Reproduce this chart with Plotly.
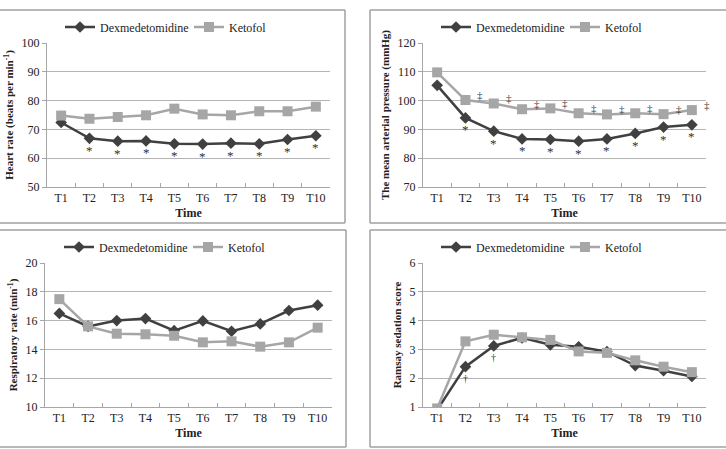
import plotly.graph_objects as go

W, H = 726, 449
FONT = "Liberation Serif"
DEX_COLOR = "#404040"
KET_COLOR = "#a6a6a6"

categories = ["T1", "T2", "T3", "T4", "T5", "T6", "T7", "T8", "T9", "T10"]

hr_dex = [72.4, 66.9, 65.9, 66.0, 65.0, 64.9, 65.2, 65.0, 66.5, 67.8]
hr_ket = [74.8, 73.7, 74.3, 74.9, 77.2, 75.2, 74.9, 76.3, 76.3, 77.9]

map_dex = [105.3, 94.0, 89.4, 86.7, 86.5, 85.9, 86.7, 88.6, 90.8, 91.6]
map_ket = [109.8, 100.2, 99.0, 97.0, 97.3, 95.6, 95.2, 95.6, 95.3, 96.7]

rr_dex = [16.5, 15.6, 16.0, 16.14, 15.3, 15.98, 15.26, 15.77, 16.7, 17.07]
rr_ket = [17.49, 15.6, 15.09, 15.05, 14.95, 14.49, 14.56, 14.19, 14.49, 15.51]

rs_dex = [0.9, 2.4, 3.12, 3.40, 3.16, 3.09, 2.92, 2.44, 2.26, 2.06]
rs_ket = [0.95, 3.28, 3.51, 3.42, 3.33, 2.93, 2.88, 2.62, 2.40, 2.21]

hr_star = ["T2", "T3", "T4", "T5", "T6", "T7", "T8", "T9", "T10"]
map_star = ["T2", "T3", "T4", "T5", "T6", "T7", "T8", "T9", "T10"]
map_ddag = ["T2", "T3", "T4", "T5", "T6", "T7", "T8", "T9", "T10"]
rs_dag = ["T2", "T3"]

panels = [
    dict(dex=hr_dex, ket=hr_ket, rng=[50, 100], dtick=10,
         title="Heart rate (beats per min<sup>-1</sup>)",
         px=(47, 330), py=(43, 187), leg=(27, 60)),
    dict(dex=map_dex, ket=map_ket, rng=[70, 120], dtick=10,
         title="The mean arterial pressure (mmHg)",
         px=(423, 706), py=(43, 187), leg=(27, 436)),
    dict(dex=rr_dex, ket=rr_ket, rng=[10, 20], dtick=2,
         title="Respiratory rate (min<sup>-1</sup>)",
         px=(45, 332), py=(263, 407), leg=(247, 59)),
    dict(dex=rs_dex, ket=rs_ket, rng=[1, 6], dtick=1,
         title="Ramsay sedation score",
         px=(423, 706), py=(263, 407), leg=(247, 436)),
]

def f(size, color="#222222"):
    return dict(family=FONT, size=size, color=color)

fig = go.Figure()
layout = dict(
    width=W, height=H, margin=dict(l=0, r=0, t=0, b=0, autoexpand=False),
    paper_bgcolor="white", plot_bgcolor="white",
    font=f(12),
    annotations=[], shapes=[],
)

for i, p in enumerate(panels):
    n = i + 1
    sfx = "" if n == 1 else str(n)
    xa, ya = "x" + sfx, "y" + sfx
    lg = "legend" if n == 1 else "legend" + str(n)
    fig.add_trace(go.Scatter(
        x=categories, y=p["dex"], name="Dexmedetomidine", mode="lines+markers",
        line=dict(color=DEX_COLOR, width=2.5),
        marker=dict(symbol="diamond", size=9, color=DEX_COLOR),
        xaxis=xa, yaxis=ya, legend=lg))
    fig.add_trace(go.Scatter(
        x=categories, y=p["ket"], name="Ketofol", mode="lines+markers",
        line=dict(color=KET_COLOR, width=2.5),
        marker=dict(symbol="square", size=10, color=KET_COLOR),
        xaxis=xa, yaxis=ya, legend=lg))
    x0, x1 = p["px"]
    y0, y1 = p["py"]
    layout["xaxis" + sfx] = dict(
        domain=[x0 / W, x1 / W], anchor=ya, type="category",
        range=[-0.5, 9.5], showgrid=False, showline=True, linecolor="#a6a6a6",
        linewidth=1, ticks="inside", ticklen=4, tickcolor="#a6a6a6",
        tickson="boundaries", tickangle=0, automargin=False,
        tickfont=f(12),
        title=dict(text="<b>Time</b>", font=f(12), standoff=4),
        fixedrange=True)
    layout["yaxis" + sfx] = dict(
        domain=[1 - y1 / H, 1 - y0 / H], anchor=xa, range=p["rng"],
        dtick=p["dtick"], showgrid=True, gridcolor="#b4b4b4", gridwidth=1,
        showline=True, linecolor="#a6a6a6", linewidth=1, ticks="outside",
        ticklen=4, tickcolor="#a6a6a6", zeroline=False, automargin=False,
        tickfont=f(12),
        title=dict(text="<b>" + p["title"] + "</b>", font=f(11), standoff=5),
        fixedrange=True)
    ly, lx = p["leg"]
    layout[lg] = dict(
        orientation="h", x=lx / W, xanchor="left", y=1 - ly / H, yanchor="middle",
        bgcolor="rgba(0,0,0,0)", font=f(12), entrywidth=84,
        itemclick=False, itemdoubleclick=False)

# significance marks
def add_marks(xref, yref, cats, vals, text, xshift, yshift, size):
    for c in cats:
        v = vals[categories.index(c)]
        layout["annotations"].append(dict(
            x=c, y=v, xref=xref, yref=yref, text=text, showarrow=False,
            xshift=xshift, yshift=yshift, font=f(size, "#333333")))

add_marks("x", "y", hr_star, hr_dex, "*", 0, -12, 13)
add_marks("x2", "y2", map_star, map_dex, "*", 0, -12, 13)
add_marks("x2", "y2", map_ddag, map_ket, "‡", 15, 5, 11)
add_marks("x4", "y4", rs_dag, rs_dex, "†", 0, -12, 10)

# panel frames
BC = "#a0a0a0"
def line(x0, y0, x1, y1):
    layout["shapes"].append(dict(
        type="line", xref="paper", yref="paper",
        x0=x0 / W, x1=x1 / W, y0=1 - y0 / H, y1=1 - y1 / H,
        line=dict(color=BC, width=1.5)))

# top-left
line(0, 10, 345, 10); line(345, 10, 345, 223); line(0, 223, 345, 223)
# top-right
line(370, 10, 726, 10); line(370, 10, 370, 223); line(370, 223, 726, 223)
# bottom-left
line(0, 230, 346, 230); line(346, 230, 346, 447); line(0, 447, 346, 447)
# bottom-right
line(370, 230, 726, 230); line(370, 230, 370, 447); line(370, 447, 726, 447)

fig.update_layout(**layout)
fig.write_html(
    "out.html",
    config={"displayModeBar": False},
    post_script="document.body.style.margin='0';document.body.style.overflow='hidden';",
)
